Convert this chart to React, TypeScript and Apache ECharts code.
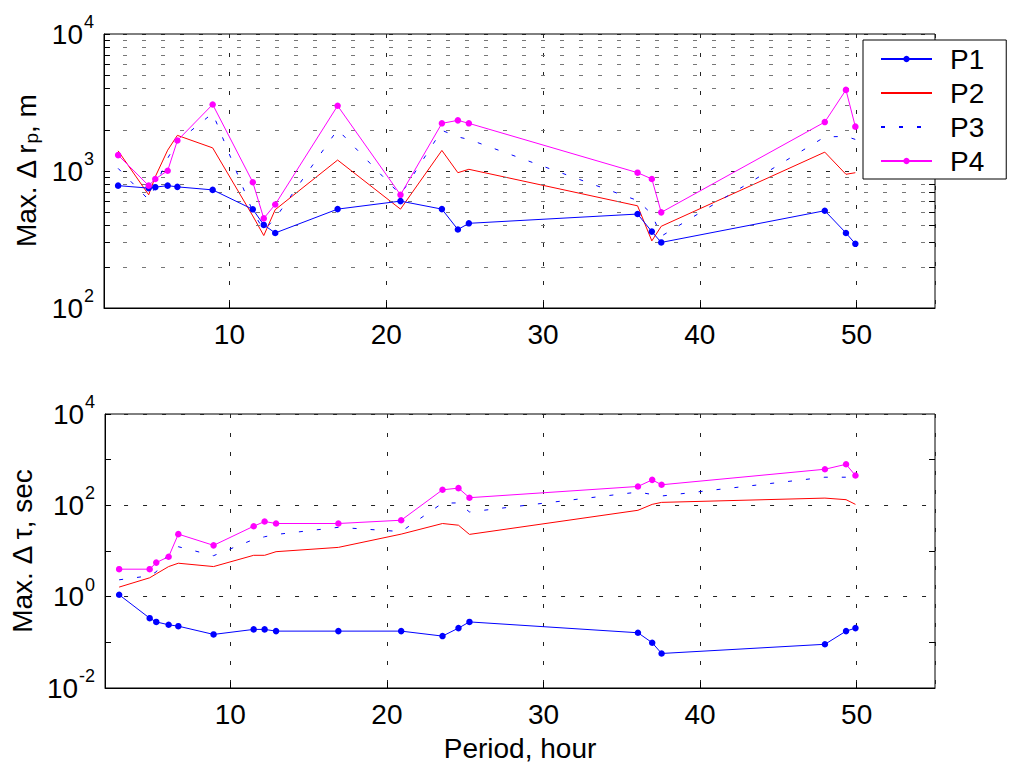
import React, { useEffect, useRef } from "react";
import * as echarts from "echarts";

// Periods (hours)
const periods = [2.9, 4.85, 5.27, 6.06, 6.68, 8.93, 11.49, 12.19, 12.92, 16.9, 20.91, 23.55, 24.57, 25.27, 36.03, 36.94, 37.54, 47.97, 49.32, 49.92];

// Top: Max. Δ r_p, m
const rpP1 = [782, 750, 762, 782, 766, 728, 525, 404, 353, 527, 603, 527, 374, 415, 485, 361, 301, 513, 353, 294];
const rpP2 = [1403, 670, 908, 1419, 1820, 1475, 470, 338, 522, 1202, 527, 1413, 972, 1029, 557, 309, 395, 1373, 946, 972];
const rpP3 = [1045, 617, 767, 1238, 1637, 2640, 505, 370, 452, 2005, 670, 1982, 1773, 1700, 609, 485, 334, 1773, 1790, 1700];
const rpP4 = [1306, 782, 875, 1005, 1668, 3060, 828, 451, 570, 2993, 670, 2228, 2342, 2228, 972, 875, 499, 2276, 3908, 2107];

// Bottom: Max. Δ τ, sec
const tauP1 = [1.1, 0.338, 0.28, 0.242, 0.226, 0.149, 0.192, 0.192, 0.176, 0.176, 0.176, 0.137, 0.205, 0.28, 0.162, 0.098, 0.057, 0.0906, 0.176, 0.205];
const tauP2 = [1.62, 2.59, 3.16, 4.56, 5.4, 4.56, 8.05, 8.05, 9.66, 12, 23.4, 40, 36.7, 23.1, 77.9, 105, 116, 144, 133, 105];
const tauP3 = [2.34, 2.87, 3.5, 8.9, 12.4, 7.9, 17.9, 20.5, 23, 33, 26.6, 112, 113, 71.6, 195, 173, 160, 413, 413, 400];
const tauP4 = [4.0, 4.0, 5.57, 7.5, 23.4, 13.3, 34.9, 44.2, 40, 40, 47.2, 219, 238, 147, 259, 361, 282, 617, 792, 449];

const seriesNames = ["P1", "P2", "P3", "P4"];
const xMin = 2;
const xMax = 55;
const topMinor = [200, 300, 400, 500, 600, 700, 800, 900, 2000, 3000, 4000, 5000, 6000, 7000, 8000, 9000];
const bottomMinorTicks = [0.1, 10, 1000];

const FONT = "'Liberation Sans', Arial, Helvetica, sans-serif";
const FS = 28;
const BLUE = "#0000ff";
const RED = "#ff0000";
const MAGENTA = "#ff00ff";
const GRID_DASH = [4, 15];

const zip = (ys: number[]) => periods.map((x, i) => [x, ys[i]]);

const tickLen = 0.38;
const tickPairs = (vals: number[]) => {
  const out: any[] = [];
  vals.forEach((v) => {
    out.push([{ coord: [xMin, v] }, { coord: [xMin + tickLen, v] }]);
    out.push([{ coord: [xMax - tickLen, v] }, { coord: [xMax, v] }]);
  });
  return out;
};

const expLabel = (v: number) => `{b|10}{s|${Math.round(Math.log10(v))}}`;
const expRich = {
  b: { fontSize: FS, fontFamily: FONT, color: "#000", lineHeight: 42 },
  s: { fontSize: 18, fontFamily: FONT, color: "#000", lineHeight: 18, verticalAlign: "top", padding: [0, 0, 0, 1] },
};

function makeX(gridIndex: number, withName: boolean) {
  return {
    type: "value",
    gridIndex,
    min: xMin,
    max: xMax,
    splitNumber: 5,
    axisLine: { show: true, onZero: false, lineStyle: { color: "#000", width: 1 } },
    axisTick: { show: true, inside: true, length: 6, lineStyle: { color: "#000" } },
    axisLabel: { fontSize: FS, fontFamily: FONT, color: "#000", margin: 12, showMinLabel: false, showMaxLabel: false },
    splitLine: { show: true, lineStyle: { color: "#222", width: 1, type: GRID_DASH } },
    name: withName ? "Period, hour" : "",
    nameLocation: "middle",
    nameGap: 46,
    nameTextStyle: { fontSize: FS, fontFamily: FONT, color: "#000" },
  };
}

function makeY(gridIndex: number, logBase: number, min: number, max: number, name: string, rich: any) {
  return {
    type: "log",
    gridIndex,
    logBase,
    min,
    max,
    axisLine: { show: true, lineStyle: { color: "#000", width: 1 } },
    axisTick: { show: true, inside: true, length: 6, lineStyle: { color: "#000" } },
    axisLabel: { formatter: expLabel, rich: expRich, margin: 10 },
    splitLine: { show: true, lineStyle: { color: "#222", width: 1, type: GRID_DASH } },
    name,
    nameLocation: "middle",
    nameRotate: 90,
    nameGap: 60,
    nameTextStyle: { fontSize: FS, fontFamily: FONT, color: "#000", rich },
  };
}

function dataSeries(gi: number, p1: number[], p2: number[], p3: number[], p4: number[]) {
  return [
    {
      name: "P1", type: "line", xAxisIndex: gi, yAxisIndex: gi, data: zip(p1),
      symbol: "circle", symbolSize: 6.5, showSymbol: true, z: 5,
      lineStyle: { color: BLUE, width: 1 }, itemStyle: { color: BLUE },
    },
    {
      name: "P2", type: "line", xAxisIndex: gi, yAxisIndex: gi, data: zip(p2),
      symbol: "none", z: 4,
      lineStyle: { color: RED, width: 1 }, itemStyle: { color: RED },
    },
    {
      name: "P3", type: "line", xAxisIndex: gi, yAxisIndex: gi, data: zip(p3),
      symbol: "none", z: 4,
      lineStyle: { color: BLUE, width: 1, type: [4, 14] }, itemStyle: { color: BLUE },
    },
    {
      name: "P4", type: "line", xAxisIndex: gi, yAxisIndex: gi, data: zip(p4),
      symbol: "circle", symbolSize: 6.5, showSymbol: true, z: 5,
      lineStyle: { color: MAGENTA, width: 1 }, itemStyle: { color: MAGENTA },
    },
  ];
}

export default function App() {
  const ref = useRef<HTMLDivElement>(null);
  useEffect(() => {
    if (!ref.current) return;
    const chart = echarts.init(ref.current, null, { renderer: "svg" });
    const option: any = {
      animation: false,
      backgroundColor: "#fff",
      textStyle: { fontFamily: FONT },
      grid: [
        { left: 104, top: 34, width: 831, height: 274, show: true, borderColor: "#000", borderWidth: 1, backgroundColor: "transparent" },
        { left: 104, top: 414, width: 831, height: 274, show: true, borderColor: "#000", borderWidth: 1, backgroundColor: "transparent" },
      ],
      legend: {
        data: [
          { name: seriesNames[0] },
          { name: seriesNames[1], itemStyle: { opacity: 0 } },
          { name: seriesNames[2], itemStyle: { opacity: 0 } },
          { name: seriesNames[3] },
        ],
        left: 863,
        top: 40,
        orient: "vertical",
        padding: [5, 22, 4, 17],
        itemGap: 6,
        itemWidth: 51,
        itemHeight: 8,
        borderColor: "#000",
        borderWidth: 1,
        backgroundColor: "#fff",
        selectedMode: false,
        textStyle: { fontSize: FS, fontFamily: FONT, color: "#000", lineHeight: 27, padding: [0, 0, 0, 13] },
        z: 10,
      },
      xAxis: [makeX(0, false), makeX(1, true)],
      yAxis: [
        makeY(0, 10, 100, 10000, "{a|Max. Δ r}{sub|p}{a|, m}", {
          a: { fontSize: FS, fontFamily: FONT, color: "#000", lineHeight: 28 },
          sub: { fontSize: 19, fontFamily: FONT, color: "#000", lineHeight: 2, verticalAlign: "bottom" },
        }),
        makeY(1, 100, 0.01, 10000, "Max. Δ τ, sec", {}),
      ],
      series: [
        {
          name: "minorGridTop", type: "line", xAxisIndex: 0, yAxisIndex: 0, data: [], z: 1, silent: true,
          markLine: {
            silent: true, symbol: ["none", "none"], label: { show: false }, animation: false,
            lineStyle: { color: "#777", width: 1, type: GRID_DASH },
            emphasis: { disabled: true },
            data: topMinor.map((v) => ({ yAxis: v })),
          },
        },
        {
          name: "minorTickTop", type: "line", xAxisIndex: 0, yAxisIndex: 0, data: [], z: 2, silent: true,
          markLine: {
            silent: true, symbol: ["none", "none"], label: { show: false }, animation: false,
            lineStyle: { color: "#000", width: 1, type: "solid" },
            emphasis: { disabled: true },
            data: tickPairs(topMinor),
          },
        },
        {
          name: "minorTickBottom", type: "line", xAxisIndex: 1, yAxisIndex: 1, data: [], z: 2, silent: true,
          markLine: {
            silent: true, symbol: ["none", "none"], label: { show: false }, animation: false,
            lineStyle: { color: "#000", width: 1, type: "solid" },
            emphasis: { disabled: true },
            data: tickPairs(bottomMinorTicks),
          },
        },
        ...dataSeries(0, rpP1, rpP2, rpP3, rpP4),
        ...dataSeries(1, tauP1, tauP2, tauP3, tauP4),
      ],
    };
    chart.setOption(option);
    return () => chart.dispose();
  }, []);
  return <div ref={ref} style={{ position: "absolute", left: 0, top: 0, width: 1009, height: 769 }} />;
}
